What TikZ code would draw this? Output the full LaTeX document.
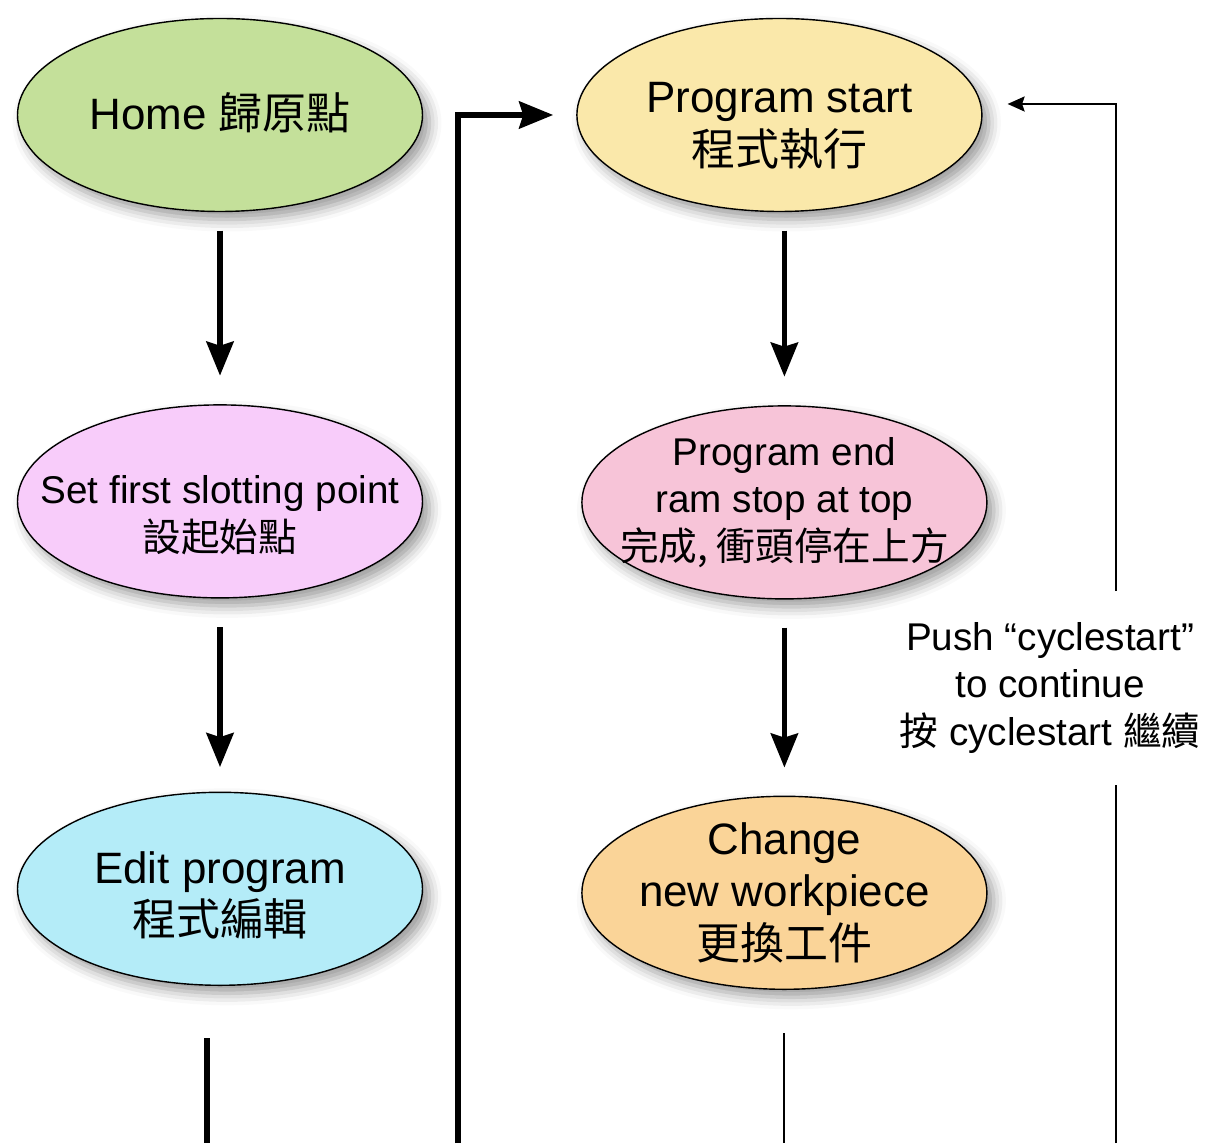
\documentclass[tikz,border=0pt]{standalone}
\usepackage{fontspec}
\setmainfont{Liberation Sans}
\newfontfamily\cjk{Noto Sans CJK TC}
\usepackage{tikz}
\usetikzlibrary{arrows.meta,positioning,shapes.geometric,shadows.blur}
\definecolor{homegreen}{HTML}{C4E09A}
\definecolor{setpink}{HTML}{F8CCFA}
\definecolor{editcyan}{HTML}{B4ECF8}
\definecolor{startyellow}{HTML}{FAE8AA}
\definecolor{endpink}{HTML}{F7C4D8}
\definecolor{changeorange}{HTML}{FAD498}
\newcommand{\bigtext}{\fontsize{25}{30}\selectfont}
\newcommand{\smalltext}{\fontsize{22}{27}\selectfont}

\begin{document}
\begin{tikzpicture}[->,>={Stealth[length=0.68cm,width=0.54cm,inset=0.08cm]},node distance=3.86cm,
  main node/.style={ellipse,draw,line width=0.8pt,minimum width=8.1cm,minimum height=3.86cm,inner sep=0pt,
    blur shadow={shadow xshift=0.14cm,shadow yshift=-0.16cm,shadow blur radius=0.24cm,shadow opacity=40}},
  big text/.style={align=center,font=\bigtext},
  small text/.style={align=center,font=\smalltext},
  flow/.style={line width=3.3pt},
  back/.style={line width=1.2pt,>={Stealth[length=0.34cm,width=0.3cm,inset=0.05cm]}}]
    \useasboundingbox (0,0) rectangle (24.42,22.86);
    \coordinate (base) at (0,0);
    \coordinate (loopL) at (9.16,0);
    \coordinate (loopR) at (22.32,0);
    \node[main node,fill=homegreen,label={[big text,yshift=0.05cm]center:Home {\cjk 歸原點}}](home) at (4.4,20.56){};
    \node[main node,fill=setpink,below=3.84cm of home,
      label={[small text,yshift=-0.28cm]center:{Set first slotting point\\{\cjk 設起始點}}}](setpt){};
    \node[main node,fill=editcyan,below=of setpt,
      label={[big text,yshift=-0.13cm]center:{Edit program\\{\cjk 程式編輯}}}](edit){};
    \node[main node,fill=startyellow,right=3.06cm of home,
      label={[big text,yshift=-0.22cm]center:{Program start\\{\cjk 程式執行}}}](start){};
    \node[main node,fill=endpink,below=of start,xshift=0.1cm,
      label={[small text]center:{Program end\\ram stop at top\\{\cjk 完成, 衝頭停在上方}}}](done){};
    \node[main node,fill=changeorange,below=3.92cm of done,
      label={[big text]center:{Change\\new workpiece\\{\cjk 更換工件}}}](change){};
    \node[small text,inner ysep=0.62cm](cont) at (21.0,9.1)
      {Push “cyclestart”\\to continue\\{\cjk 按} cyclestart {\cjk 繼續}};
    \coordinate (etail) at ([xshift=-0.26cm]edit.south);

    \draw[flow,shorten <=0.37cm,shorten >=0.57cm] (home.south) -- (setpt.north);
    \draw[flow,shorten <=0.57cm,shorten >=0.49cm] (setpt.south) -- (edit.north);
    \draw[flow,shorten <=0.37cm,shorten >=0.57cm] (start.south -| done.north) -- (done.north);
    \draw[flow,shorten <=0.56cm,shorten >=0.56cm] (done.south) -- (change.north);
    \draw[flow,shorten >=0.46cm] (loopL) |- (start.west);
    \draw[-,flow] ([yshift=-1.04cm]etail) -- (etail |- base);
    \draw[-,back] ([yshift=-0.86cm]change.south) -- (change.south |- base);
    \draw[-,back] (loopR) -- (loopR |- cont.south);
    \draw[back,shorten >=0.5cm] (loopR |- cont.north) |- ([yshift=0.22cm]start.east);

\end{tikzpicture}
\end{document}
